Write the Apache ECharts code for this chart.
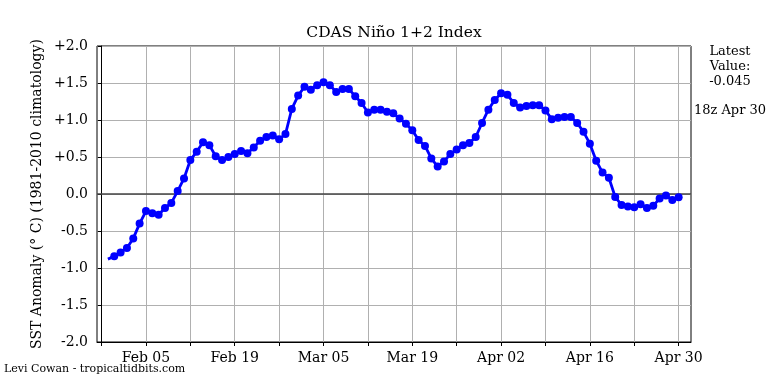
<!DOCTYPE html>
<html>
<head>
<meta charset="utf-8">
<script src="https://cdn.jsdelivr.net/npm/echarts@6/dist/echarts.min.js"></script>
<style>
html,body{margin:0;padding:0;background:#fff;}
#chart{width:768px;height:384px;}
</style>
</head>
<body>
<div id="chart"></div>
<script>
// Day index: 0 = Jan 29
const firstDay = 1;
const anomalies = [
  -0.88, -0.84, -0.79, -0.73, -0.60, -0.40, -0.23, -0.26, -0.28, -0.19,
  -0.12, 0.04, 0.21, 0.46, 0.57, 0.70, 0.66, 0.51, 0.46, 0.50,
  0.54, 0.58, 0.55, 0.63, 0.72, 0.77, 0.79, 0.74, 0.81, 1.15,
  1.33, 1.45, 1.41, 1.47, 1.51, 1.47, 1.38, 1.42, 1.42, 1.32,
  1.23, 1.10, 1.14, 1.14, 1.11, 1.09, 1.02, 0.95, 0.86, 0.73,
  0.65, 0.48, 0.37, 0.44, 0.54, 0.60, 0.66, 0.69, 0.77, 0.96,
  1.14, 1.27, 1.36, 1.34, 1.23, 1.17, 1.19, 1.20, 1.20, 1.13,
  1.01, 1.03, 1.04, 1.04, 0.96, 0.84, 0.68, 0.45, 0.29, 0.22,
  -0.04, -0.15, -0.17, -0.18, -0.14, -0.19, -0.16, -0.06, -0.02, -0.08,
  -0.045
];
const tickDays = [0, 7, 14, 21, 28, 35, 42, 49, 56, 63, 70, 77, 84, 91];
const labelDays = [7, 21, 35, 49, 63, 77, 91];
const labelTexts = ['Feb 05', 'Feb 19', 'Mar 05', 'Mar 19', 'Apr 02', 'Apr 16', 'Apr 30'];
const yTicks = [-2, -1.5, -1, -0.5, 0, 0.5, 1, 1.5, 2];

const seriesData = anomalies.map((v, i) => {
  const d = { value: [firstDay + i, v] };
  if (i === 0) d.symbol = 'none';
  return d;
});

const font = 'DejaVu Serif';
const chart = echarts.init(document.getElementById('chart'), null, { renderer: 'canvas' });
chart.setOption({
  animation: false,
  backgroundColor: '#fff',
  grid: { left: 97, right: 77, top: 46, bottom: 42, show: true, borderColor: '#000', borderWidth: 1, containLabel: false },
  xAxis: {
    type: 'value',
    min: -0.72,
    max: 92.95,
    axisLine: { show: true, onZero: false, lineStyle: { color: '#000', width: 1 } },
    axisTick: { show: true, inside: false, length: 4, customValues: tickDays, lineStyle: { color: '#000', width: 1 } },
    axisLabel: {
      show: true, customValues: labelDays, margin: 9, color: '#000',
      fontFamily: font, fontSize: 14,
      formatter: (v) => { const k = labelDays.indexOf(Math.round(v)); return k >= 0 ? labelTexts[k] : ''; }
    },
    splitLine: { show: true, lineStyle: { color: '#b0b0b0', width: 1 } }
  },
  yAxis: {
    type: 'value',
    min: -2, max: 2, interval: 0.5,
    axisLine: { show: true, lineStyle: { color: '#000', width: 1 } },
    axisTick: { show: true, length: 4, lineStyle: { color: '#000', width: 1 } },
    axisLabel: {
      margin: 9, color: '#000', fontFamily: font, fontSize: 14,
      formatter: (v) => (v > 0 ? '+' + v.toFixed(1) : v.toFixed(1))
    },
    splitLine: { show: true, lineStyle: { color: '#b0b0b0', width: 1 } }
  },
  series: [{
    type: 'line',
    data: seriesData,
    symbol: 'circle',
    symbolSize: 8,
    showAllSymbol: true,
    lineStyle: { color: '#0000ff', width: 2.8 },
    itemStyle: { color: '#0000ff' },
    z: 5,
    markLine: {
      silent: true, symbol: ['none', 'none'], label: { show: false },
      lineStyle: { color: '#444', width: 1.5, type: 'solid' },
      data: [{ yAxis: 0 }],
      z: 3
    }
  }],
  graphic: [
    { type: 'text', x: 394, y: 33, style: { text: 'CDAS Niño 1+2 Index', font: '15.5px "DejaVu Serif"', fill: '#000', textAlign: 'center', textVerticalAlign: 'middle' } },
    { type: 'text', x: 37, y: 194, rotation: Math.PI / 2, style: { text: 'SST Anomaly (° C) (1981-2010 climatology)', font: '14px "DejaVu Serif"', fill: '#000', textAlign: 'center', textVerticalAlign: 'middle' } },
    { type: 'text', x: 730, y: 67, style: { text: 'Latest\nValue:\n-0.045', font: '13px "DejaVu Serif"', lineHeight: 15, fill: '#000', textAlign: 'center', textVerticalAlign: 'middle' } },
    { type: 'text', x: 730, y: 111, style: { text: '18z Apr 30', font: '13px "DejaVu Serif"', fill: '#000', textAlign: 'center', textVerticalAlign: 'middle' } },
    { type: 'text', x: 4, y: 369, style: { text: 'Levi Cowan - tropicaltidbits.com', font: '11px "DejaVu Serif"', fill: '#000', textAlign: 'left', textVerticalAlign: 'middle' } }
  ]
});
</script>
</body>
</html>
